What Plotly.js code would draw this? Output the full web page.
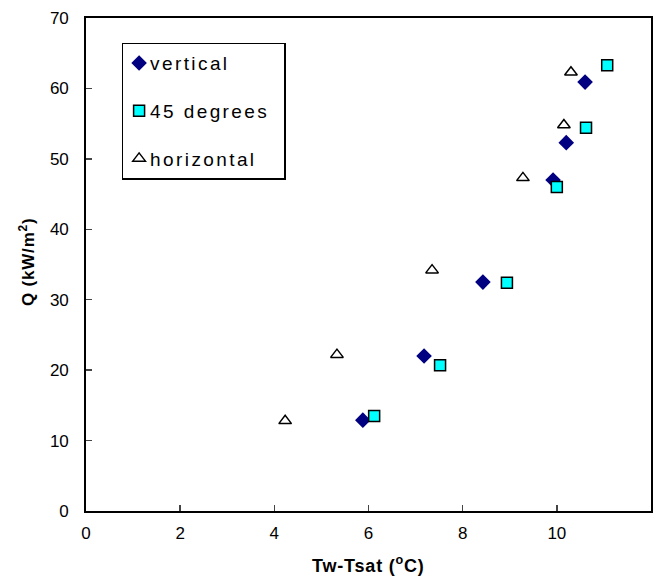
<!DOCTYPE html>
<html><head><meta charset="utf-8">
<script src="https://cdn.plot.ly/plotly-3.0.1.min.js"></script>
<style>body{margin:0}.legendtext{letter-spacing:2.4px;transform:translateX(-9px)}.annotation-text{letter-spacing:0.8px}</style>
</head><body><div id="chart" style="width:659px;height:579px"></div>
<script>
const vertX = [5.88, 7.18, 8.43, 9.92, 10.2, 10.6];
const vertY = [12.9, 22.0, 32.5, 47.0, 52.3, 60.9];
const degX = [6.12, 7.52, 8.94, 10.0, 10.62, 11.07];
const degY = [13.5, 20.7, 32.4, 46.0, 54.4, 63.3];
const horX = [4.23, 5.33, 7.35, 9.28, 10.15, 10.3];
const horY = [12.8, 22.2, 34.2, 47.3, 54.8, 62.3];
const xTicks = [0, 2, 4, 6, 8, 10, 12];
const yTicks = [0, 10, 20, 30, 40, 50, 60, 70];

const traces = [
  {x: vertX, y: vertY, name: 'vertical', mode: 'markers', type: 'scatter', legendgroup: 'a',
   marker: {symbol: 'diamond', size: 12, color: '#000080'}},
  {x: degX, y: degY, name: '45 degrees', mode: 'markers', type: 'scatter', legendgroup: 'b',
   marker: {symbol: 'square', size: 11, color: '#00FFFF', line: {color: '#000', width: 1.5}}},
  {x: horX, y: horY, name: 'horizontal', mode: 'markers', type: 'scatter', legendgroup: 'c',
   marker: {symbol: 'triangle-up', size: 11, color: '#fff', line: {color: '#000', width: 1.5}}}
];

const layout = {
  width: 659, height: 579,
  margin: {l: 86, r: 8, t: 18, b: 68},
  paper_bgcolor: '#fff', plot_bgcolor: '#fff',
  font: {family: 'Liberation Sans, Arial, sans-serif', color: '#000', size: 17},
  showlegend: true,
  legend: {x: 0.063, y: 0.95, xanchor: 'left', yanchor: 'top', bgcolor: '#fff',
    bordercolor: '#000', borderwidth: 1.5, font: {size: 19}, tracegroupgap: 20,
    traceorder: 'grouped', itemwidth: 30, indentation: -4},
  xaxis: {range: [0, 12], tickvals: xTicks, ticktext: xTicks.map(String), ticks: 'inside', ticklen: 6,
    tickwidth: 1.5, showline: true, linewidth: 1.8, linecolor: '#000', mirror: true, showgrid: false,
    zeroline: false, ticklabelstandoff: 6, fixedrange: true},
  yaxis: {range: [0, 70], tickvals: yTicks, ticktext: yTicks.map(String), ticks: 'inside', ticklen: 6,
    tickwidth: 1.5, showline: true, linewidth: 1.8, linecolor: '#000', mirror: true, showgrid: false,
    zeroline: false, ticklabelstandoff: 12, fixedrange: true},
  annotations: [
    {text: '<b>Tw-Tsat (<sup>o</sup>C)</b>', xref: 'paper', yref: 'paper', x: 0.5, y: -(577-511)/493,
     xanchor: 'center', yanchor: 'bottom', showarrow: false, font: {size: 18}, borderpad: 0},
    {text: '<b>Q (kW/m<sup>2</sup>)</b>', xref: 'paper', yref: 'paper', x: -(86-27)/565, y: (511-262)/493,
     xanchor: 'center', yanchor: 'middle', showarrow: false, textangle: -90, font: {size: 17}, borderpad: 0}
  ]
};
Plotly.newPlot('chart', traces, layout, {displayModeBar: false, staticPlot: true});
</script></body></html>
